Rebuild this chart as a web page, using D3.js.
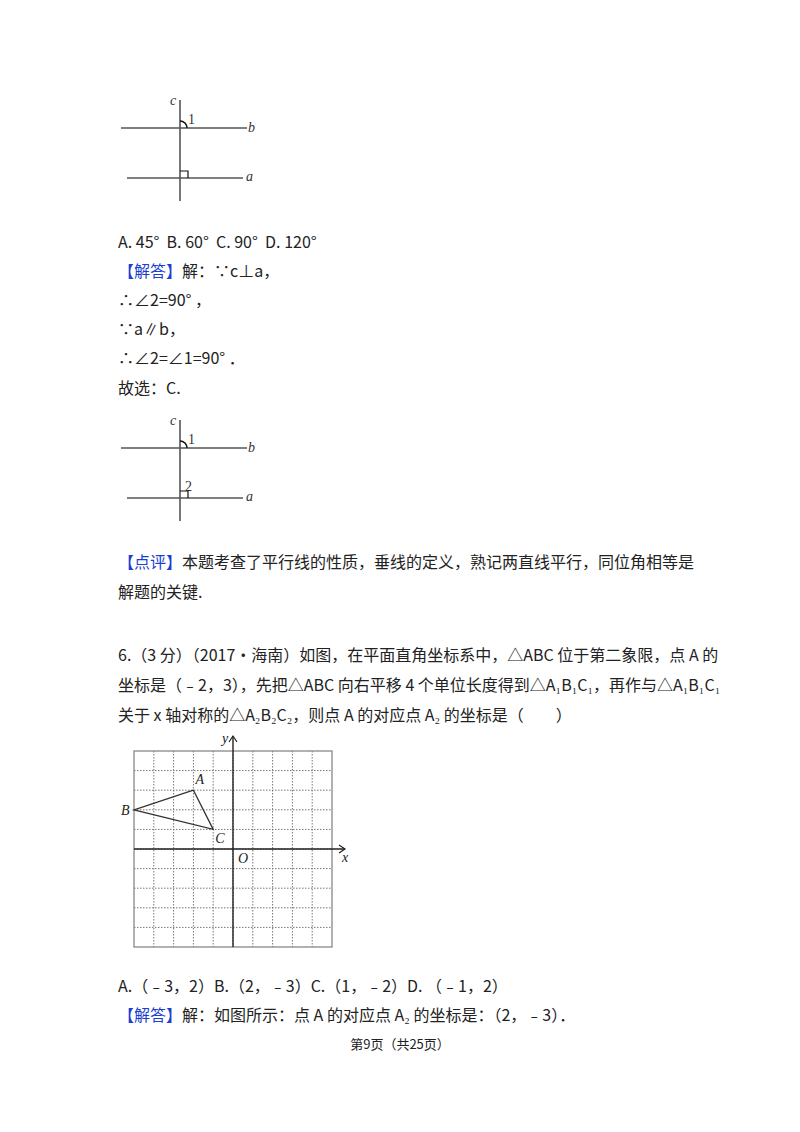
<!DOCTYPE html><html><head><meta charset="utf-8">
<script src="https://d3js.org/d3.v7.min.js"></script>
<style>body{margin:0;background:#fff}text{font-family:"Noto Sans CJK SC","Liberation Serif",serif;white-space:pre}</style></head><body>
<script>
const gridTicks=[-5,-4,-3,-2,-1,0,1,2,3,4,5];
const triNames=["A","B","C"];
const triX=[-2,-5,-1];
const triY=[3,2,1];
const textLines=[
 [248,[["A. 45°  B. 60°  C. 90°  D. 120°","#222"]]],
 [277,[["【解答】","#1a3fd0"],["解：∵c⊥a，","#222"]]],
 [306,[["∴∠2=90° ，","#222"]]],
 [335,[["∵a∥b，","#222"]]],
 [364,[["∴∠2=∠1=90° ．","#222"]]],
 [394,[["故选：C.","#222"]]],
 [568,[["【点评】","#1a3fd0"],["本题考查了平行线的性质，垂线的定义，熟记两直线平行，同位角相等是","#222"]]],
 [598,[["解题的关键.","#222"]]],
 [661,[["6.（3 分）（2017•海南）如图，在平面直角坐标系中，△ABC 位于第二象限，点 A 的","#222"]]],
 [691,[["坐标是（﹣2，3），先把△ABC 向右平移 4 个单位长度得到△A₁B₁C₁，再作与△A₁B₁C₁","#222"]]],
 [721,[["关于 x 轴对称的△A₂B₂C₂，则点 A 的对应点 A₂ 的坐标是（　　）","#222"]]],
 [992,[["A.（﹣3，2）B.（2，﹣3）C.（1，﹣2）D. （﹣1，2）","#222"]]],
 [1021,[["【解答】","#1a3fd0"],["解：如图所示：点 A 的对应点 A₂ 的坐标是：（2，﹣3）．","#222"]]]
];
const svg=d3.select("body").append("svg").attr("width",800).attr("height",1132);
textLines.forEach(([y,parts])=>{
  const t=svg.append("text").attr("x",118).attr("y",y).style("font-size","16px");
  parts.forEach(([s,c])=>t.append("tspan").attr("fill",c).text(s));
});
svg.append("text").attr("x",400).attr("y",1049).attr("text-anchor","middle").style("font-size","13px").attr("fill","#222").text("第9页（共25页）");

const serif=(sel,it)=>sel.style("font-family","'Liberation Serif',serif").style("font-style",it?"italic":"normal");
function lineFig(oy,label2){
  const g=svg.append("g").attr("stroke","#555").attr("stroke-width",1.6).attr("fill","none");
  g.append("line").attr("x1",180).attr("x2",180).attr("y1",oy).attr("y2",oy+101);
  g.append("line").attr("x1",121).attr("x2",247).attr("y1",oy+28).attr("y2",oy+28);
  g.append("line").attr("x1",127).attr("x2",243).attr("y1",oy+78).attr("y2",oy+78);
  g.append("path").attr("stroke","#111").attr("d",`M180,${oy+21} A7,7 0 0 1 187,${oy+28}`);
  g.append("path").attr("stroke","#111").attr("stroke-width",1.2).attr("d",`M180,${oy+71} H188 V${oy+78}`);
  const tx=(x,y,s,it)=>serif(svg.append("text").attr("x",x).attr("y",y).style("font-size","14px").attr("fill","#333").text(s),it);
  tx(170,oy+5,"c",1);tx(188,oy+24,"1");tx(248,oy+32,"b",1);tx(246,oy+81,"a",1);
  if(label2)tx(185,oy+71,"2");
}
lineFig(100,false);
lineFig(420,true);

const x=d3.scaleLinear().domain([-5,5]).range([134,332]);
const y=d3.scaleLinear().domain([-5,5]).range([947,751]);
const gg=svg.append("g");
gridTicks.slice(1,-1).forEach(v=>{
  gg.append("line").attr("x1",x(v)).attr("x2",x(v)).attr("y1",y(5)).attr("y2",y(-5)).attr("stroke","#777").attr("stroke-dasharray","1.5,1.5");
  gg.append("line").attr("y1",y(v)).attr("y2",y(v)).attr("x1",x(-5)).attr("x2",x(5)).attr("stroke","#777").attr("stroke-dasharray","1.5,1.5");
});
gg.append("rect").attr("x",x(-5)).attr("y",y(5)).attr("width",x(5)-x(-5)).attr("height",y(-5)-y(5)).attr("fill","none").attr("stroke","#888").attr("stroke-width",1.3);
gg.append("line").attr("x1",x(-5)).attr("x2",x(5)+13).attr("y1",y(0)).attr("y2",y(0)).attr("stroke","#222").attr("stroke-width",1.4);
gg.append("line").attr("x1",x(0)).attr("x2",x(0)).attr("y1",y(-5)).attr("y2",y(5)-15).attr("stroke","#222").attr("stroke-width",1.4);
gg.append("path").attr("d",`M${x(5)+7},${y(0)-4} L${x(5)+13},${y(0)} L${x(5)+7},${y(0)+4}`).attr("fill","none").attr("stroke","#222").attr("stroke-width",1.2);
gg.append("path").attr("d",`M${x(0)-4},${y(5)-9} L${x(0)},${y(5)-15} L${x(0)+4},${y(5)-9}`).attr("fill","none").attr("stroke","#222").attr("stroke-width",1.2);
const pts=triX.map((v,i)=>[x(v),y(triY[i])]);
gg.append("path").attr("d",d3.line()(pts)+"Z").attr("fill","none").attr("stroke","#333").attr("stroke-width",1.3);
const lab=(px,py,s)=>serif(svg.append("text").attr("x",px).attr("y",py).style("font-size","14px").attr("fill","#222").text(s),true);
lab(pts[0][0]+2,pts[0][1]-6,triNames[0]);
lab(pts[1][0]-13,pts[1][1]+5,triNames[1]);
lab(pts[2][0]+2,pts[2][1]+14,triNames[2]);
lab(x(0)+5,y(0)+14,"O");
lab(x(5)+10,y(0)+13,"x");
lab(x(0)-11,y(5)-8,"y");
</script></body></html>
